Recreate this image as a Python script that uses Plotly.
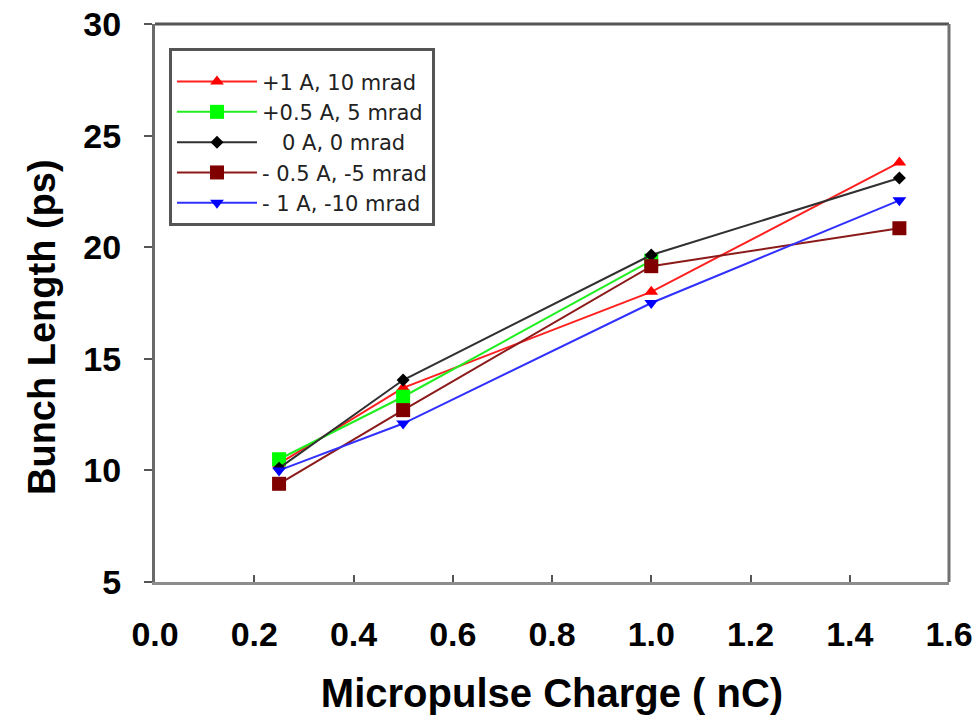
import plotly.graph_objects as go

# Bunch length vs micropulse charge for several corrector settings

charge = [0.25, 0.5, 1.0, 1.5]
charge_short = [0.25, 0.5, 1.0]

p1a = [10.3, 13.7, 18.0, 23.8]      # +1 A, 10 mrad
p05a = [10.5, 13.3, 19.4]           # +0.5 A, 5 mrad (no 1.5 nC point)
zero = [10.1, 14.05, 19.65, 23.1]   # 0 A, 0 mrad
m05a = [9.4, 12.7, 19.15, 20.85]    # -0.5 A, -5 mrad
m1a = [10.0, 12.1, 17.5, 22.1]      # -1 A, -10 mrad

names = ["+1 A, 10 mrad", "+0.5 A, 5 mrad", "\u00a0\u00a0 0 A, 0 mrad",
         "- 0.5 A, -5 mrad", "- 1 A, -10 mrad"]

x_ticks = [0.0, 0.2, 0.4, 0.6, 0.8, 1.0, 1.2, 1.4, 1.6]
y_ticks = [5, 10, 15, 20, 25, 30]

FONT = "Liberation Sans, Arial, sans-serif"

fig = go.Figure()

fig.add_trace(go.Scatter(x=charge, y=p1a, name=names[0], mode="lines+markers",
                         line=dict(color="#ff2020", width=2),
                         marker=dict(symbol="triangle-up", size=12, color="#ff0000")))
fig.add_trace(go.Scatter(x=charge_short, y=p05a, name=names[1], mode="lines+markers",
                         line=dict(color="#20ee20", width=2),
                         marker=dict(symbol="square", size=14, color="#00ff00")))
fig.add_trace(go.Scatter(x=charge, y=zero, name=names[2], mode="lines+markers",
                         line=dict(color="#303030", width=2),
                         marker=dict(symbol="diamond", size=10, color="#000000")))
fig.add_trace(go.Scatter(x=charge, y=m05a, name=names[3], mode="lines+markers",
                         line=dict(color="#8b1a1a", width=2),
                         marker=dict(symbol="square", size=14, color="#800000")))
fig.add_trace(go.Scatter(x=charge, y=m1a, name=names[4], mode="lines+markers",
                         line=dict(color="#3030ff", width=2),
                         marker=dict(symbol="triangle-down", size=12, color="#0000ff")))

fig.update_layout(
    width=977, height=722,
    margin=dict(l=155, r=28, t=24, b=140),
    paper_bgcolor="white", plot_bgcolor="white",
    font=dict(family=FONT, color="black"),
    showlegend=True,
    legend=dict(x=0.0176, y=0.957, xanchor="left", yanchor="top",
                bgcolor="white", bordercolor="#555555", borderwidth=3,
                font=dict(size=21, family="DejaVu Sans", color="#222222"),
                title=dict(text="\u00a0", font=dict(size=8)),
                itemwidth=80, tracegroupgap=0),
)

fig.update_xaxes(
    range=[0, 1.6], tickvals=x_ticks, ticktext=[f"<b>{v:.1f}</b>" for v in x_ticks],
    ticks="inside", ticklen=7, tickwidth=2, tickcolor="#555555",
    showline=True, linecolor="#8c8c8c", linewidth=3, mirror=False,
    showgrid=False, zeroline=False, automargin=False,
    ticklabelstandoff=20, ticklabeloverflow="allow",
    tickfont=dict(size=34, family=FONT, color="black"),
    title=dict(text="<b>Micropulse Charge ( nC)</b>", font=dict(size=40, family=FONT), standoff=28),
)
fig.update_yaxes(
    range=[5, 30], tickvals=y_ticks, ticktext=[f"<b>{v}</b>" for v in y_ticks],
    ticks="outside", ticklen=8, tickwidth=2, tickcolor="#555555",
    showline=True, linecolor="#6a6a6a", linewidth=3, mirror=False,
    showgrid=False, zeroline=False, automargin=False,
    ticklabelstandoff=16, ticklabeloverflow="allow",
    tickfont=dict(size=34, family=FONT, color="black"),
)

# y-axis title, placed a bit below the plot centre as in the original
fig.add_annotation(text="<b>Bunch Length (ps)</b>", textangle=-90,
                   xref="paper", yref="paper", x=-0.1423, y=0.457,
                   xanchor="center", yanchor="middle",
                   showarrow=False, font=dict(size=38, family=FONT, color="black"))

# top and right frame lines of the plot area
fig.add_shape(type="line", xref="paper", yref="paper", x0=0, x1=1, y0=1, y1=1,
              line=dict(color="#555555", width=3))
fig.add_shape(type="line", xref="paper", yref="paper", x0=1, x1=1, y0=0, y1=1,
              line=dict(color="#707070", width=3))

# page has a default 8px body margin; drop it so the figure fills the window
fig.write_html("out.html", config={"displayModeBar": False},
               post_script="document.body.style.margin='0';")
